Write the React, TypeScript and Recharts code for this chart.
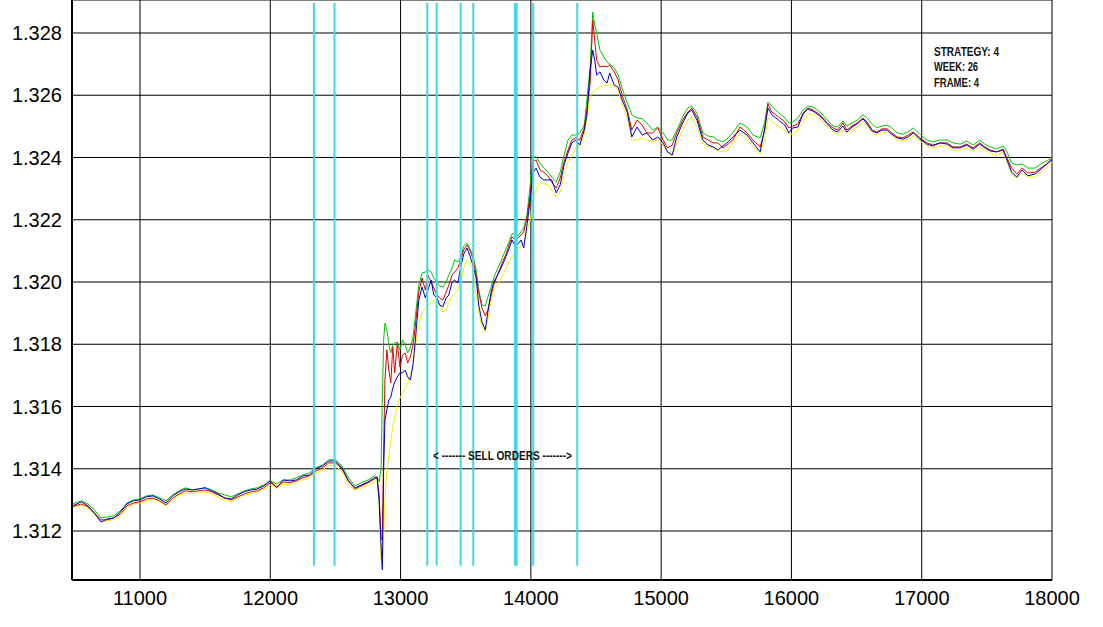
import { CartesianGrid, Line, LineChart, ReferenceLine, XAxis, YAxis } from "recharts";

// tick positions
const xTicks = [11000, 12000, 13000, 14000, 15000, 16000, 17000, 18000];
const yTicks = [1.312, 1.314, 1.316, 1.318, 1.32, 1.322, 1.324, 1.326, 1.328];

// sample positions (bar index)
const xs = [
  10480, 10500, 10550, 10600, 10650, 10700, 10750, 10800, 10850, 10900, 10950, 11000,
  11050, 11100, 11150, 11200, 11250, 11300, 11350, 11400, 11450, 11500, 11550, 11600,
  11650, 11700, 11750, 11800, 11850, 11900, 11950, 12000, 12050, 12100, 12150, 12200,
  12250, 12300, 12350, 12400, 12450, 12500, 12550, 12600, 12650, 12700, 12750, 12800,
  // spike
  12820, 12835, 12850, 12860, 12870, 12880, 12895, 12910, 12925, 12940, 12955, 12975,
  12995, 13015, 13035, 13055, 13075, 13095,
  // climb
  13110, 13140, 13165, 13190, 13210, 13235, 13255, 13280, 13300, 13325, 13350, 13370,
  13395, 13415, 13440, 13465, 13485, 13510, 13530, 13555, 13580, 13600, 13625, 13650,
  13670, 13695, 13715, 13740, 13765, 13785, 13810, 13830, 13855, 13880, 13900, 13925,
  13945, 13970, 13995, 14015, 14040, 14070, 14100, 14130, 14160, 14195, 14225, 14255,
  14285,
  // peak
  14315, 14345, 14375, 14410, 14430, 14455, 14475, 14490, 14505, 14530, 14560, 14585,
  14605, 14640, 14670, 14700, 14740, 14775, 14815, 14855, 14890, 14935, 14975, 15015,
  15050, 15085, 15120, 15165, 15205, 15235, 15275, 15320, 15360, 15400, 15435, 15475,
  15515, 15550, 15605,
  // tail
  15660, 15705, 15760, 15795, 15820, 15850, 15880, 15910, 15950, 15980, 16010, 16050,
  16090, 16125, 16165, 16220, 16275, 16320, 16355, 16395, 16425, 16465, 16505, 16550,
  16580, 16620, 16655, 16695, 16735, 16770, 16810, 16855, 16895, 16935, 16985, 17040,
  17085, 17140, 17195, 17240, 17295, 17345, 17395, 17445, 17485, 17525, 17575, 17625,
  17655, 17690, 17730, 17770, 17815, 17870, 17925, 17960, 18000,
];

const green = [
  1.31287, 1.3129, 1.31297, 1.31287, 1.31268, 1.31242, 1.31245, 1.31249, 1.31265, 1.3129, 1.313, 1.31303,
  1.31313, 1.31316, 1.31306, 1.31297, 1.31316, 1.31329, 1.31339, 1.31332, 1.31335, 1.31339, 1.31332, 1.31322,
  1.31316, 1.3131, 1.31319, 1.31329, 1.31335, 1.31339, 1.31348, 1.31361, 1.31351, 1.31364, 1.31364, 1.31371,
  1.3138, 1.31387, 1.31403, 1.31412, 1.31429, 1.31429, 1.31409, 1.31371, 1.31345, 1.31355, 1.31364, 1.31377,
  1.31374, 1.31358, 1.31396, 1.31621, 1.31814, 1.31868, 1.31846, 1.31798, 1.31772, 1.31798, 1.31804, 1.31807,
  1.31782, 1.31814, 1.31798, 1.31772, 1.31791, 1.31823,
  1.31878, 1.3199, 1.32029, 1.32032, 1.32039, 1.32032, 1.32013, 1.31997, 1.31987, 1.31984, 1.32, 1.32022,
  1.32045, 1.32071, 1.32064, 1.32083, 1.32116, 1.32125, 1.32109, 1.32087, 1.32039, 1.31974, 1.31926, 1.31923,
  1.31952, 1.31984, 1.32013, 1.32039, 1.32061, 1.32083, 1.32106, 1.32128, 1.32154, 1.32157, 1.32148, 1.32161,
  1.32173, 1.32215, 1.32312, 1.32402, 1.32402, 1.32382, 1.32366, 1.32353, 1.32337, 1.32321, 1.32353, 1.32408,
  1.32456,
  1.32472, 1.32472, 1.32479, 1.32504, 1.32585, 1.32691, 1.32867, 1.32826, 1.328, 1.32745, 1.32723, 1.32707,
  1.327, 1.32688, 1.32665, 1.32623, 1.32575, 1.32537, 1.32527, 1.32524, 1.32511, 1.32488, 1.32498, 1.32479,
  1.32456, 1.32456, 1.32488, 1.3253, 1.32559, 1.32565, 1.32543, 1.32479, 1.32469, 1.32466, 1.32456, 1.3245,
  1.32463, 1.32479, 1.32511,
  1.32498, 1.32472, 1.32463, 1.32514, 1.32578, 1.32565, 1.32553, 1.3254, 1.32527, 1.32511, 1.32514, 1.32527,
  1.32553, 1.32565, 1.32562, 1.32546, 1.3252, 1.32501, 1.32498, 1.32517, 1.32501, 1.32511, 1.3252, 1.32537,
  1.32527, 1.32508, 1.32495, 1.32501, 1.32504, 1.32495, 1.32479, 1.32475, 1.32482, 1.32495, 1.32475, 1.32456,
  1.3245, 1.32456, 1.32456, 1.32447, 1.32443, 1.32453, 1.3244, 1.32456, 1.32443, 1.32434, 1.32427, 1.32437,
  1.32418, 1.32382, 1.32376, 1.32379, 1.32366, 1.32366, 1.32382, 1.32389, 1.32402,
];

const red = [
  1.31278, 1.31281, 1.31287, 1.31278, 1.31258, 1.31236, 1.31236, 1.31242, 1.31255, 1.31281, 1.3129, 1.31294,
  1.31303, 1.31306, 1.31297, 1.31284, 1.31306, 1.31319, 1.31329, 1.31326, 1.31329, 1.31332, 1.31326, 1.31316,
  1.31306, 1.313, 1.3131, 1.31319, 1.31326, 1.31329, 1.31339, 1.31355, 1.31342, 1.31358, 1.31355, 1.31361,
  1.31371, 1.31377, 1.31393, 1.31403, 1.31419, 1.31419, 1.314, 1.31361, 1.31335, 1.31345, 1.31355, 1.31367,
  1.31371, 1.31316, 1.31181, 1.31171, 1.3146, 1.31685, 1.31782, 1.31717, 1.31676, 1.31791, 1.31708, 1.31804,
  1.31727, 1.31765, 1.31772, 1.3174, 1.31759, 1.31798,
  1.31846, 1.31968, 1.32013, 1.31974, 1.32022, 1.32, 1.31981, 1.31958, 1.31949, 1.31942, 1.31968, 1.3199,
  1.32022, 1.32032, 1.32045, 1.32077, 1.32103, 1.32119, 1.32103, 1.32077, 1.32022, 1.31968, 1.31916, 1.31891,
  1.3191, 1.31958, 1.3199, 1.32019, 1.32045, 1.32067, 1.3209, 1.32116, 1.32145, 1.32135, 1.32141, 1.32151,
  1.32161, 1.32206, 1.3228, 1.32386, 1.32392, 1.3236, 1.32353, 1.32341, 1.32321, 1.32302, 1.32334, 1.32386,
  1.32424,
  1.32456, 1.32463, 1.32456, 1.32495, 1.32553, 1.32639, 1.32842, 1.32777, 1.32713, 1.32691, 1.32694, 1.32691,
  1.32697, 1.32675, 1.32649, 1.32601, 1.32553, 1.32488, 1.3252, 1.32504, 1.32479, 1.32479, 1.32495, 1.32456,
  1.32431, 1.3244, 1.32479, 1.3252, 1.32546, 1.32559, 1.3253, 1.32466, 1.32456, 1.32447, 1.32447, 1.32431,
  1.32443, 1.32456, 1.32498,
  1.32479, 1.32456, 1.32434, 1.32488, 1.32572, 1.32546, 1.32537, 1.32527, 1.32514, 1.32495, 1.32501, 1.32508,
  1.32543, 1.32559, 1.32553, 1.32537, 1.32511, 1.32495, 1.32488, 1.32511, 1.32488, 1.32501, 1.32511, 1.32527,
  1.32514, 1.32488, 1.32482, 1.32492, 1.32492, 1.32479, 1.32466, 1.32463, 1.32472, 1.32482, 1.32463, 1.32447,
  1.3244, 1.32447, 1.32447, 1.32434, 1.32434, 1.32443, 1.32431, 1.32447, 1.32434, 1.32424, 1.32418, 1.32427,
  1.32398, 1.32366, 1.32347, 1.32366, 1.3235, 1.32353, 1.3237, 1.32379, 1.32398,
];

const blue = [
  1.31281, 1.31284, 1.31294, 1.31281, 1.31258, 1.31229, 1.31239, 1.31242, 1.31261, 1.31287, 1.31297, 1.313,
  1.3131, 1.31313, 1.31303, 1.3129, 1.31313, 1.31326, 1.31335, 1.31332, 1.31335, 1.31339, 1.31329, 1.31319,
  1.31306, 1.31303, 1.31316, 1.31326, 1.31332, 1.31335, 1.31345, 1.31361, 1.31339, 1.31364, 1.31361, 1.31364,
  1.31377, 1.3138, 1.314, 1.31409, 1.31425, 1.31425, 1.31403, 1.31361, 1.31339, 1.31348, 1.31358, 1.31371,
  1.31371, 1.313, 1.31155, 1.31075, 1.31396, 1.31557, 1.31589, 1.31621, 1.3163, 1.31659, 1.31679, 1.31695,
  1.31708, 1.31708, 1.31717, 1.31695, 1.31685, 1.31733,
  1.31798, 1.31942, 1.31984, 1.31949, 1.31974, 1.32006, 1.31958, 1.31949, 1.31926, 1.3192, 1.31949, 1.31958,
  1.32, 1.32006, 1.31997, 1.32055, 1.3209, 1.32109, 1.32087, 1.32055, 1.32013, 1.31926, 1.31871, 1.31846,
  1.31904, 1.31968, 1.32, 1.32019, 1.32039, 1.32058, 1.32083, 1.32103, 1.32135, 1.32116, 1.32122, 1.32135,
  1.32109, 1.32183, 1.32263, 1.3235, 1.32366, 1.32337, 1.32328, 1.32328, 1.32328, 1.32286, 1.32312, 1.32376,
  1.32414,
  1.32447, 1.32456, 1.3244, 1.32488, 1.32537, 1.32681, 1.32745, 1.32713, 1.32665, 1.32675, 1.32649, 1.32639,
  1.32671, 1.32633, 1.32626, 1.32585, 1.32546, 1.32466, 1.32498, 1.32472, 1.32479, 1.32456, 1.32466, 1.32447,
  1.32418, 1.32408, 1.32466, 1.32511, 1.32543, 1.32553, 1.3252, 1.32456, 1.3244, 1.32434, 1.32424, 1.32437,
  1.3245, 1.32466, 1.32488,
  1.32472, 1.32447, 1.32418, 1.32495, 1.32559, 1.32537, 1.32527, 1.32517, 1.32504, 1.32479, 1.32495, 1.32498,
  1.3254, 1.32556, 1.32549, 1.32533, 1.32508, 1.32488, 1.32482, 1.32501, 1.32482, 1.32498, 1.32508, 1.32524,
  1.32508, 1.32485, 1.32479, 1.32488, 1.32488, 1.32475, 1.32463, 1.32459, 1.32466, 1.32479, 1.32459, 1.32443,
  1.32437, 1.32447, 1.32443, 1.32431, 1.32431, 1.3244, 1.32427, 1.32443, 1.32431, 1.32421, 1.32418, 1.32424,
  1.32392, 1.32353, 1.32337, 1.3236, 1.32341, 1.32347, 1.32366, 1.32379, 1.32392,
];

const yellow = [
  1.31274, 1.31278, 1.31284, 1.31274, 1.31252, 1.31229, 1.31233, 1.31236, 1.31249, 1.31274, 1.31287, 1.3129,
  1.31297, 1.31303, 1.31294, 1.31281, 1.313, 1.31316, 1.31322, 1.31319, 1.31322, 1.31326, 1.31319, 1.3131,
  1.313, 1.31294, 1.31306, 1.31316, 1.31319, 1.31326, 1.31335, 1.31348, 1.31335, 1.31351, 1.31348, 1.31355,
  1.31364, 1.31371, 1.31387, 1.31396, 1.31412, 1.31409, 1.3139, 1.31351, 1.31329, 1.31339, 1.31348, 1.31358,
  1.31361, 1.31284, 1.31107, 1.31091, 1.31171, 1.313, 1.31396, 1.31444, 1.31492, 1.31534, 1.31563, 1.31605,
  1.31627, 1.31643, 1.31659, 1.31676, 1.31701, 1.31724,
  1.31782, 1.31862, 1.31904, 1.31916, 1.31926, 1.31933, 1.31939, 1.31942, 1.31926, 1.31904, 1.3191, 1.31933,
  1.31952, 1.31965, 1.31974, 1.32, 1.32045, 1.32071, 1.32064, 1.32039, 1.31958, 1.31904, 1.31852, 1.31839,
  1.31878, 1.31942, 1.31974, 1.3199, 1.32006, 1.32022, 1.32042, 1.32064, 1.3208, 1.32093, 1.32103, 1.32116,
  1.32128, 1.32161, 1.32199, 1.32263, 1.32296, 1.32318, 1.32315, 1.32312, 1.32296, 1.32273, 1.32289, 1.32344,
  1.32386,
  1.32405, 1.32431, 1.32434, 1.32472, 1.32527, 1.32594, 1.3261, 1.32617, 1.3262, 1.32626, 1.32633, 1.3263,
  1.32636, 1.3263, 1.32617, 1.32575, 1.32527, 1.32456, 1.32456, 1.32463, 1.32456, 1.3245, 1.32459, 1.3244,
  1.32414, 1.32405, 1.32447, 1.32488, 1.3252, 1.3253, 1.32498, 1.32447, 1.32434, 1.32431, 1.32421, 1.32418,
  1.32424, 1.32447, 1.32479,
  1.32456, 1.32437, 1.32411, 1.32456, 1.32527, 1.32514, 1.32508, 1.32498, 1.32488, 1.32475, 1.32475, 1.32488,
  1.32514, 1.32537, 1.3254, 1.32524, 1.32498, 1.32482, 1.32475, 1.32488, 1.32479, 1.32488, 1.32498, 1.32514,
  1.32501, 1.32479, 1.32472, 1.32482, 1.32482, 1.32469, 1.32456, 1.32453, 1.32459, 1.32469, 1.32453, 1.32437,
  1.32431, 1.32437, 1.32437, 1.32424, 1.32424, 1.32431, 1.32421, 1.32434, 1.32424, 1.32414, 1.32408, 1.32418,
  1.32386, 1.32347, 1.32334, 1.3235, 1.32337, 1.32337, 1.32357, 1.3237, 1.32386,
];

// order markers (vertical cyan lines)
const sellOrders = [12335, 12493, 13205, 13277, 13461, 13558, 13878, 13891, 14018, 14356];
const orderTop = 1.32896;
const orderBottom = 1.31088;

const infoLines = ["STRATEGY: 4", "WEEK: 26", "FRAME: 4"];
const infoWidths = [65, 44, 45];

const n = Math.min(xs.length, green.length, red.length, blue.length, yellow.length);
const chartData = xs.slice(0, n).map((x, i) => ({
  x,
  green: green[i],
  red: red[i],
  blue: blue[i],
  yellow: yellow[i],
}));

const tickFont = { fill: "#000", fontSize: 20, fontFamily: "Liberation Sans, Arial, sans-serif" };

export default function App() {
  return (
    <div style={{ position: "absolute", left: 0, top: 0, width: 1103, height: 627, background: "#fff" }}>
      <LineChart width={1103} height={627} data={chartData} margin={{ top: 0, right: 51, bottom: 0, left: 0 }}>
        <CartesianGrid stroke="#000" strokeOpacity={1} />
        <XAxis
          dataKey="x"
          type="number"
          domain={[10478, 18000]}
          ticks={xTicks}
          interval={0}
          allowDataOverflow
          height={47}
          tickLine={false}
          tickMargin={5}
          axisLine={{ stroke: "#000", strokeWidth: 2 }}
          tick={tickFont}
        />
        <YAxis
          type="number"
          domain={[1.310426, 1.32906]}
          ticks={yTicks}
          interval={0}
          allowDataOverflow
          width={72}
          tickLine={false}
          tickMargin={4}
          axisLine={{ stroke: "#000", strokeWidth: 2 }}
          tick={tickFont}
          tickFormatter={(v: number) => v.toFixed(3)}
        />
        <Line type="linear" dataKey="yellow" stroke="#f2f200" strokeWidth={1} dot={false} isAnimationActive={false} />
        <Line type="linear" dataKey="green" stroke="#00c800" strokeWidth={1} dot={false} isAnimationActive={false} />
        <Line type="linear" dataKey="red" stroke="#e80000" strokeWidth={1} dot={false} isAnimationActive={false} />
        <Line type="linear" dataKey="blue" stroke="#0000c8" strokeWidth={1} dot={false} isAnimationActive={false} />
        {sellOrders.map((x) => (
          <ReferenceLine
            key={x}
            segment={[
              { x, y: orderBottom },
              { x, y: orderTop },
            ]}
            stroke="#40d8e4"
            strokeWidth={2}
          />
        ))}
      </LineChart>
      <svg
        width={1103}
        height={627}
        style={{ position: "absolute", left: 0, top: 0, pointerEvents: "none" }}
      >
        <g fontFamily="Liberation Sans Narrow, Liberation Sans, Arial, sans-serif" fontWeight="bold" fill="#111">
          {infoLines.map((t, i) => (
            <text
              key={t}
              x={934}
              y={55.5 + i * 15.7}
              fontSize={13}
              textLength={infoWidths[i]}
              lengthAdjust="spacingAndGlyphs"
            >
              {t}
            </text>
          ))}
          <text x={433} y={460} fontSize={12} textLength={139} lengthAdjust="spacingAndGlyphs">
            {"<  -------   SELL ORDERS  ------->"}
          </text>
        </g>
      </svg>
    </div>
  );
}
